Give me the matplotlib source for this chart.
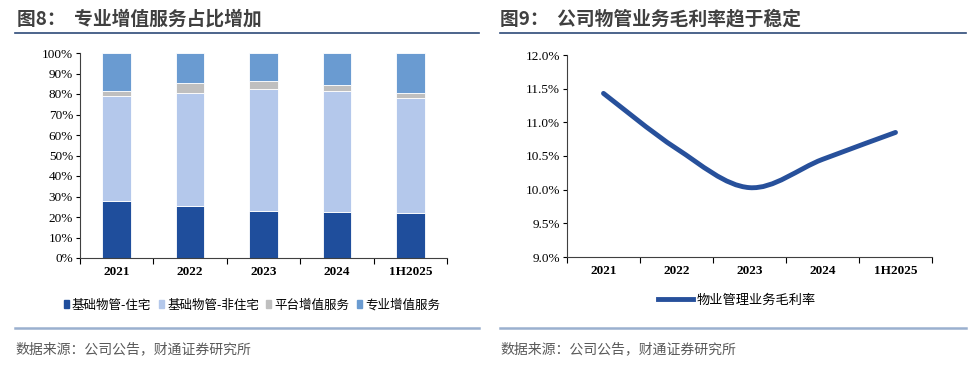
import numpy as np
import matplotlib.pyplot as plt
from matplotlib.patches import Patch, PathPatch
from matplotlib.lines import Line2D
from matplotlib.path import Path

plt.rcParams['font.family'] = ['Noto Sans CJK SC', 'DejaVu Sans']

# data
cats = ['2021', '2022', '2023', '2024', '1H2025']
zhuzhai = [28.0, 25.2, 23.1, 22.6, 22.1]        # 基础物管-住宅
feizhuzhai = [51.0, 55.3, 59.3, 59.0, 55.8]     # 基础物管-非住宅
pingtai = [2.7, 4.9, 3.8, 3.0, 2.8]             # 平台增值服务
zhuanye = [18.3, 14.6, 13.8, 15.4, 19.3]        # 专业增值服务
labels_bar = ['基础物管-住宅', '基础物管-非住宅', '平台增值服务', '专业增值服务']
colors_bar = ['#1F4E9C', '#B4C8EB', '#BFBFBF', '#6A9BD1']

margin = [11.43, 10.61, 10.03, 10.45, 10.85]    # 物业管理业务毛利率 (%)

W, H = 974, 368
fig = plt.figure(figsize=(W / 100, H / 100), dpi=100)

def ax_px(x0, y0, x1, y1):
    return fig.add_axes([x0 / W, 1 - y1 / H, (x1 - x0) / W, (y1 - y0) / H])

serif = 'Liberation Serif'
title_c = '#404040'

# titles and rules
fig.text(17 / W, 1 - 19 / H, '图8：  专业增值服务占比增加', fontsize=13.5, fontweight='bold',
         color=title_c, va='center', ha='left')
fig.text(500 / W, 1 - 19 / H, '图9：  公司物管业务毛利率趋于稳定', fontsize=13.5, fontweight='bold',
         color=title_c, va='center', ha='left')
for x0, x1 in [(15, 479), (500, 966)]:
    fig.add_artist(Line2D([x0 / W, x1 / W], [1 - 33 / H] * 2, color='#2E4A78', lw=1.2))
    fig.add_artist(Line2D([x0 / W, x1 / W], [1 - 328 / H] * 2, color='#9AB0CF', lw=1.8))
    fig.text(x0 / W, 1 - 349 / H, '数据来源：公司公告，财通证券研究所', fontsize=10,
             color='#595959', va='center', ha='left')

# ---- left: stacked bars
ax = ax_px(80, 53, 447, 258)
x = np.arange(len(cats))
bottom = np.zeros(len(cats))
for vals, c, lab in zip([zhuzhai, feizhuzhai, pingtai, zhuanye], colors_bar, labels_bar):
    ax.bar(x, vals, width=0.39, bottom=bottom, color=c, label=lab, edgecolor='white', linewidth=0.6)
    bottom += np.array(vals)
ax.set_xlim(-0.5, len(cats) - 0.5)
ax.set_ylim(0, 100)
ax.set_yticks(np.arange(0, 101, 10))
ax.set_yticklabels([f'{v}%' for v in range(0, 101, 10)], fontfamily=serif, fontsize=9.5)
ax.set_xticks(np.arange(-0.5, len(cats), 1))
ax.set_xticklabels([])
ax.set_xticks(x, minor=True)
ax.set_xticklabels(cats, minor=True, fontfamily=serif, fontsize=9.5, fontweight='bold')
ax.tick_params(axis='x', which='minor', length=0, pad=6)
ax.tick_params(axis='x', which='major', length=4, direction='out')
ax.tick_params(axis='y', length=3, direction='out', pad=2)
for s in ['top', 'right']:
    ax.spines[s].set_visible(False)
for s in ['left', 'bottom']:
    ax.spines[s].set_color('#404040')

handles = [Patch(color=c) for c in colors_bar]
fig.legend(handles, labels_bar, loc='center', bbox_to_anchor=(252 / W, 1 - 305 / H), ncol=4,
           frameon=False, fontsize=9, handlelength=0.4, handleheight=0.55,
           handletextpad=0.25, columnspacing=0.6)

# ---- right: smoothed line
ax2 = ax_px(567, 55, 932, 257)
xs = np.arange(len(margin), dtype=float)
ys = np.array(margin)
# Bezier segments (Catmull-Rom style smoothing like Excel)
pts = np.column_stack([xs, ys])
verts = [pts[0]]
codes = [Path.MOVETO]
n = len(pts)
for i in range(n - 1):
    p0 = pts[i - 1] if i > 0 else pts[i]
    p1 = pts[i]
    p2 = pts[i + 1]
    p3 = pts[i + 2] if i + 2 < n else pts[i + 1]
    c1 = p1 + (p2 - p0) / 6
    c2 = p2 - (p3 - p1) / 6
    verts += [c1, c2, p2]
    codes += [Path.CURVE4] * 3
ax2.add_patch(PathPatch(Path(verts, codes), facecolor='none', edgecolor='#27509B', lw=3.5,
                        capstyle='round'))
ax2.set_xlim(-0.5, len(cats) - 0.5)
ax2.set_ylim(9.0, 12.0)
yt = np.arange(9.0, 12.01, 0.5)
ax2.set_yticks(yt)
ax2.set_yticklabels([f'{v:.1f}%' for v in yt], fontfamily=serif, fontsize=9.5)
ax2.set_xticks(np.arange(-0.5, len(cats), 1))
ax2.set_xticklabels([])
ax2.set_xticks(xs, minor=True)
ax2.set_xticklabels(cats, minor=True, fontfamily=serif, fontsize=9.5, fontweight='bold')
ax2.tick_params(axis='x', which='minor', length=0, pad=6)
ax2.tick_params(axis='x', which='major', length=4, direction='out')
ax2.tick_params(axis='y', length=3, direction='out', pad=2)
for s in ['top', 'right']:
    ax2.spines[s].set_visible(False)
for s in ['left', 'bottom']:
    ax2.spines[s].set_color('#404040')

fig.legend([Line2D([], [], color='#27509B', lw=3.5)], ['物业管理业务毛利率'], loc='center',
           bbox_to_anchor=(737 / W, 1 - 300 / H), frameon=False, fontsize=9.5,
           handlelength=2.6, handletextpad=0.3)

fig.savefig('out.png', dpi=100)
